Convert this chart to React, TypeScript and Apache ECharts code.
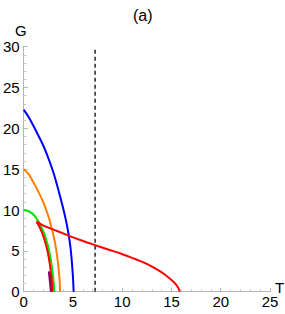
import React, { useEffect, useRef } from "react";
import * as echarts from "echarts";

const xTicks = [0, 5, 10, 15, 20, 25];
const yTicks = [0, 5, 10, 15, 20, 25, 30];

const blue: number[][] = [
  [0, 22.3], [0.5, 21.4], [1.04, 20.2], [1.5, 19.1], [2.04, 17.75], [2.55, 16.2],
  [3.04, 14.5], [3.4, 13.0], [3.71, 11.6], [4.05, 10.0], [4.38, 8.2], [4.6, 6.7],
  [4.76, 5.3], [4.9, 3.5], [5.0, 1.8], [5.05, 0.6], [5.07, 0],
];
const orange: number[][] = [
  [0, 15], [0.5, 14.4], [1.04, 13.27], [1.55, 12.1], [2.04, 10.8], [2.4, 9.6],
  [2.71, 8.37], [3.0, 7.0], [3.21, 5.8], [3.4, 4.3], [3.55, 2.8], [3.65, 1.3], [3.7, 0],
];
const green: number[][] = [
  [0, 10], [0.5, 9.85], [1.04, 9.39], [1.54, 8.5], [2.04, 7.25], [2.35, 6.1],
  [2.6, 4.9], [2.82, 3.4], [2.97, 2.0], [3.06, 0.9], [3.12, 0],
];
const redLower: number[][] = [
  [1.3, 8.57], [1.6, 7.95], [1.9, 7.1], [2.2, 6.0], [2.45, 4.8], [2.65, 3.4],
  [2.8, 2.0], [2.9, 0.9], [2.95, 0],
];
const redUpper: number[][] = [
  [1.3, 8.57], [2.0, 8.1], [3.04, 7.6], [4.0, 7.15], [4.8, 6.75], [5.8, 6.3],
  [7.25, 5.7], [8.5, 5.2], [9.9, 4.65], [11.3, 4.0], [12.6, 3.35], [13.9, 2.45],
  [14.7, 1.75], [15.3, 1.1], [15.65, 0.55], [15.85, 0],
];
const purple: number[][] = [[2.55, 2.5], [2.66, 1.25], [2.76, 0]];
const darkRed: number[][] = [[2.7, 2.1], [2.76, 1.0], [2.81, 0]];
const dashedT = 7.25;
const dashed: number[][] = [[dashedT, 0], [dashedT, 30]];

const FONT = "Liberation Sans";

export default function App() {
  const ref = useRef<HTMLDivElement>(null);
  useEffect(() => {
    if (!ref.current) return;
    const chart = echarts.init(ref.current, undefined, { renderer: "svg" });
    const line = (data: number[][], color: string, width = 2, z = 2) => ({
      type: "line",
      data,
      showSymbol: false,
      symbol: "none",
      smooth: 0.35,
      z,
      lineStyle: { color, width },
    });
    chart.setOption({
      animation: false,
      backgroundColor: "#ffffff",
      grid: { left: 21, right: 15, top: 46.7, bottom: 22.3 },
      xAxis: {
        type: "value",
        min: xTicks[0],
        max: xTicks[xTicks.length - 1],
        interval: 5,
        axisLine: { lineStyle: { color: "#b5b5b5", width: 1 } },
        axisTick: { inside: true, length: 4, lineStyle: { color: "#b5b5b5" } },
        minorTick: { show: true, splitNumber: 5, length: 2.5, lineStyle: { color: "#c8c8c8" } },
        splitLine: { show: false },
        axisLabel: { color: "#000", fontSize: 15, fontFamily: FONT, margin: 2 },
      },
      yAxis: {
        type: "value",
        min: yTicks[0],
        max: yTicks[yTicks.length - 1],
        interval: 5,
        axisLine: { show: true, lineStyle: { color: "#b5b5b5", width: 1 } },
        axisTick: { show: true, inside: true, length: 4, lineStyle: { color: "#b5b5b5" } },
        minorTick: { show: true, splitNumber: 5, length: 2.5, lineStyle: { color: "#c8c8c8" } },
        splitLine: { show: false },
        axisLabel: { color: "#000", fontSize: 15, fontFamily: FONT, margin: 4 },
      },
      graphic: [
        { type: "text", left: 133, top: 7, style: { text: "(a)", fontSize: 16, fontFamily: FONT, fill: "#000" } },
        { type: "text", left: 15, top: 23, style: { text: "G", fontSize: 15, fontFamily: FONT, fill: "#000" } },
        { type: "text", left: 275, top: 280, style: { text: "T", fontSize: 15, fontFamily: FONT, fill: "#000" } },
      ],
      series: [
        { ...line(dashed, "#333333", 1.6, 1), smooth: false, lineStyle: { color: "#333333", width: 1.6, type: [4, 3] } },
        line(blue, "#0000ff"),
        line(orange, "#ff8000"),
        line(green, "#00e600"),
        line(redLower, "#ff0000", 2, 3),
        line(redUpper, "#ff0000", 2, 3),
        line(purple, "#800080", 2, 4),
        line(darkRed, "#a0102a", 1.6, 4),
      ],
    });
    return () => chart.dispose();
  }, []);
  return <div ref={ref} style={{ position: "fixed", left: 0, top: 0, width: 285, height: 314 }} />;
}
